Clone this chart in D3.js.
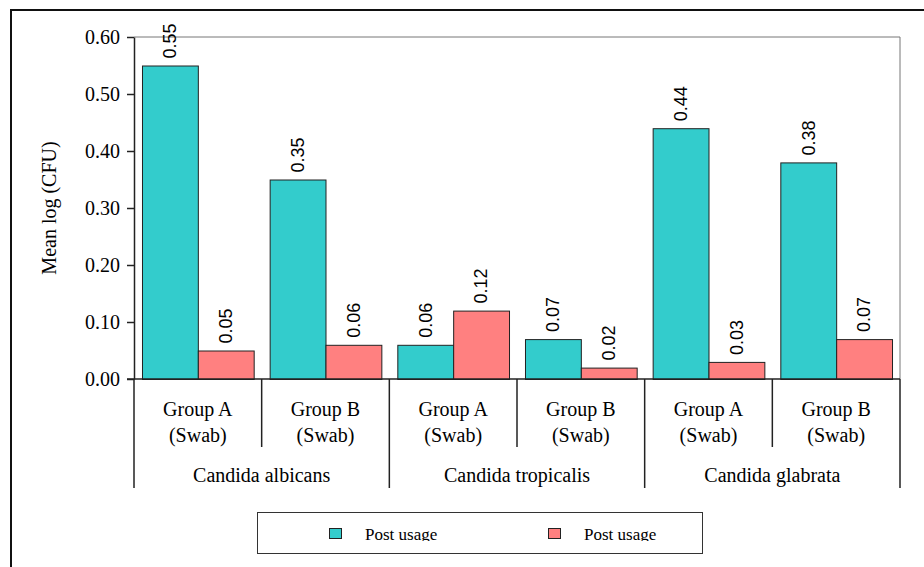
<!DOCTYPE html>
<html>
<head>
<meta charset="utf-8">
<script src="https://cdn.jsdelivr.net/npm/d3@7"></script>
<style>
  html, body { margin: 0; padding: 0; background: #fff; }
  svg { display: block; }
  .serif { font-family: "Liberation Serif", "Times New Roman", serif; fill: #000; }
  .sans { font-family: "Liberation Sans", Arial, sans-serif; fill: #000; }
</style>
</head>
<body>
<svg id="chart" width="924" height="567"></svg>
<script>
// Grouped bars: mean log (CFU) per species and group
const species = ["Candida albicans", "Candida tropicalis", "Candida glabrata"];
const groups = ["Group A", "Group B"];
const groupSuffix = "(Swab)";
const seriesNames = ["Post usage", "Post usage"];
const seriesColors = ["#33CCCC", "#FF8080"];
const tealValues = [0.55, 0.35, 0.06, 0.07, 0.44, 0.38];
const redValues  = [0.05, 0.06, 0.12, 0.02, 0.03, 0.07];
const yTicks = [0, 0.1, 0.2, 0.3, 0.4, 0.5, 0.6];
const yTitle = "Mean log (CFU)";

// one row per species/group column
const columns = [];
species.forEach((sp, si) => groups.forEach((g, gi) => {
  const i = si * groups.length + gi;
  columns.push({ key: sp + "|" + g, species: sp, group: g, values: [tealValues[i], redValues[i]] });
}));

const svg = d3.select("#chart");
const plot = { left: 134, top: 37, right: 900, bottom: 379 };

// outer frame
svg.append("rect")
  .attr("x", 11).attr("y", 10).attr("width", 1000).attr("height", 1000)
  .attr("fill", "none").attr("stroke", "#111").attr("stroke-width", 2);

const x = d3.scaleBand().domain(columns.map(d => d.key))
  .range([plot.left, plot.right]).padding(0);
const xInner = d3.scaleBand().domain([0, 1])
  .range([0, x.bandwidth()]).paddingInner(0).paddingOuter(0.143);
const y = d3.scaleLinear().domain([0, 0.6]).range([plot.bottom, plot.top]);

// plot area border (top and right)
svg.append("path")
  .attr("d", `M${plot.left},${plot.top}H${plot.right}V${plot.bottom}`)
  .attr("fill", "none").attr("stroke", "#777").attr("stroke-width", 1);

// bars
const colG = svg.append("g").selectAll("g").data(columns).join("g")
  .attr("transform", d => `translate(${x(d.key)},0)`);

colG.selectAll("rect").data(d => d.values.map((v, i) => ({ v, i }))).join("rect")
  .attr("x", d => xInner(d.i) + 0.5)
  .attr("y", d => y(d.v) + 0.5)
  .attr("width", xInner.bandwidth())
  .attr("height", d => y(0) - y(d.v))
  .attr("fill", d => seriesColors[d.i])
  .attr("stroke", "#222").attr("stroke-width", 1);

// value labels, rotated
colG.selectAll("text").data(d => d.values.map((v, i) => ({ v, i }))).join("text")
  .attr("class", "sans")
  .attr("font-size", 18)
  .attr("text-anchor", "start")
  .attr("dy", "0.35em")
  .attr("transform", d => `translate(${xInner(d.i) + xInner.bandwidth() / 2},${y(d.v) - 7}) rotate(-90)`)
  .text(d => d3.format(".2f")(d.v));

// y axis
const yAxis = svg.append("g")
  .attr("transform", `translate(${plot.left},0)`)
  .call(d3.axisLeft(y).tickValues(yTicks).tickFormat(d3.format(".2f"))
    .tickSize(7).tickSizeOuter(0).tickPadding(7));
yAxis.select(".domain").attr("stroke", "#222").attr("stroke-width", 1.5);
yAxis.selectAll(".tick line").attr("stroke", "#222").attr("stroke-width", 1.5);
yAxis.selectAll(".tick text").attr("class", "serif")
  .attr("font-size", 20).attr("fill", "#000");

svg.append("text").attr("class", "serif")
  .attr("font-size", 20).attr("text-anchor", "middle")
  .attr("transform", `translate(56,${(plot.top + plot.bottom) / 2}) rotate(-90)`)
  .text(yTitle);

// category axis: baseline, group separators, species separators
const xa = svg.append("g").attr("stroke", "#222").attr("stroke-width", 1.5);
xa.append("line").attr("x1", plot.left - 7).attr("x2", plot.right)
  .attr("y1", plot.bottom).attr("y2", plot.bottom);

const edges = columns.map((d, i) => ({ x: x(d.key), major: i % groups.length === 0 }));
edges.push({ x: x(columns[columns.length - 1].key) + x.bandwidth(), major: true });
xa.selectAll("line.sep").data(edges).join("line").attr("class", "sep")
  .attr("x1", d => d.x).attr("x2", d => d.x)
  .attr("y1", plot.bottom).attr("y2", d => d.major ? 488 : 447);

// group labels
const lab = svg.append("g");
columns.forEach(d => {
  const cx = x(d.key) + x.bandwidth() / 2;
  lab.append("text").attr("class", "serif").attr("font-size", 20)
    .attr("text-anchor", "middle").attr("x", cx).attr("y", 416).text(d.group);
  lab.append("text").attr("class", "serif").attr("font-size", 20)
    .attr("text-anchor", "middle").attr("x", cx).attr("y", 442).text(groupSuffix);
});
species.forEach((sp, si) => {
  const first = x(sp + "|" + groups[0]);
  const cx = first + x.bandwidth() * groups.length / 2;
  lab.append("text").attr("class", "serif").attr("font-size", 20)
    .attr("text-anchor", "middle").attr("x", cx).attr("y", 482).text(sp);
});

// legend
svg.append("defs").append("clipPath").attr("id", "legClip")
  .append("rect").attr("x", 257).attr("y", 512).attr("width", 445).attr("height", 29);
svg.append("rect").attr("x", 257.5).attr("y", 512.5).attr("width", 445).attr("height", 41)
  .attr("fill", "#fff").attr("stroke", "#333").attr("stroke-width", 1);
const legItems = svg.append("g").attr("clip-path", "url(#legClip)")
  .selectAll("g").data(seriesNames.map((n, i) => ({ n, i }))).join("g")
  .attr("transform", d => `translate(${d.i === 0 ? 329 : 548},0)`);
legItems.append("rect").attr("x", 0.5).attr("y", 528.5).attr("width", 12).attr("height", 10)
  .attr("fill", d => seriesColors[d.i]).attr("stroke", "#222").attr("stroke-width", 1);
legItems.append("text").attr("class", "serif").attr("font-size", 17)
  .attr("x", 36).attr("y", 540).text(d => d.n);
</script>
</body>
</html>
